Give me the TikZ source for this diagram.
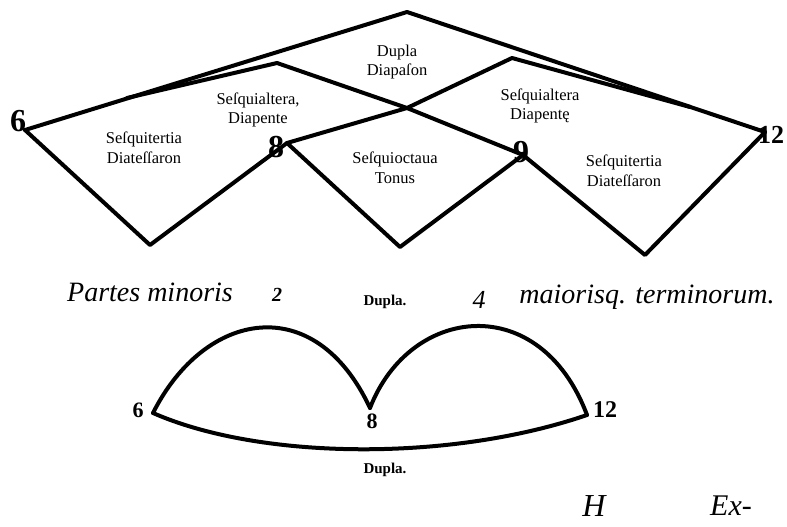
\documentclass[tikz,border=0pt]{standalone}
\usepackage{fontspec}
\setmainfont{Liberation Serif}
\begin{document}
\begin{tikzpicture}[x=1pt,y=-1pt,
  edge/.style={line width=4pt, line join=round, line cap=round},
  lab/.style={font=\fontsize{16.5}{19.5}\selectfont, align=center, inner sep=0pt},
  bignum/.style={font=\fontsize{32}{34}\selectfont\bfseries, inner sep=0pt},
  smallnum/.style={font=\fontsize{22}{24}\selectfont\bfseries, inner sep=0pt},
  ital/.style={font=\fontsize{28}{30}\selectfont\itshape, inner sep=0pt},
  dup/.style={font=\fontsize{15}{17}\selectfont\bfseries, inner sep=0pt}]
\fill[white] (0,0) rectangle (787,527);
\useasboundingbox (0,0) rectangle (787,527);
% upper figure vertices
\coordinate (six) at (25,130);
\coordinate (apex) at (407,12);
\coordinate (twelve) at (765,132);
\coordinate (lpk) at (277,63);
\coordinate (ldep) at (127,98);
\coordinate (eight) at (287,143);
\coordinate (cross) at (407,108);
\coordinate (nine) at (523,155);
\coordinate (rpk) at (512,58);
\coordinate (rjoin) at (690,107);
\coordinate (b1) at (150,245);
\coordinate (b2) at (400,247);
\coordinate (b3) at (645,255);
\draw[edge] (six) -- (apex) -- (twelve);
\draw[edge] (ldep) -- (lpk) -- (cross) -- (nine);
\draw[edge] (eight) -- (cross) -- (rpk) -- (rjoin);
\draw[edge] (six) -- (b1) -- (eight) -- (b2) -- (nine) -- (b3) -- (twelve);
% numbers
\node[bignum] (n6) at (18,121) {6};
\node[bignum] (n8) at (276,147) {8};
\node[bignum] (n9) at (521,152) {9};
\node[font=\fontsize{26}{28}\selectfont\bfseries, inner sep=0pt] (n12) at (771,135) {12};
% interval labels
\node[lab] (dd) at (397,62) {Dupla\\Diapaſon};
\node[lab] (st1) at (144,148) {Seſquitertia\\Diateſſaron};
\node[lab] (sa1) at (258,110) {Seſquialtera,\\Diapente};
\node[lab] (so) at (395,168) {Seſquioctaua\\Tonus};
\node[lab] (sa2) at (540,106) {Seſquialtera\\Diapentę};
\node[lab] (st2) at (624,171) {Seſquitertia\\Diateſſaron};
% middle line of text
\node[ital] (pm) at (150,292) {Partes minoris};
\node[font=\fontsize{20}{22}\selectfont\itshape\bfseries, inner sep=0pt] (two) at (277,295) {2};
\node[dup] (d1) at (385,302) {Dupla.};
\node[font=\fontsize{26}{28}\selectfont\itshape, inner sep=0pt] (four) at (479,300) {4};
\node[ital] (mt) at (647,297) {maiorisq. terminorum.};
% lower figure
\coordinate (l6) at (153,413);
\coordinate (l8) at (370,408);
\coordinate (l12) at (587,415);
\draw[edge] (l6) .. controls (205,310) and (315,290) .. (l8);
\draw[edge] (l8) .. controls (410,305) and (540,290) .. (l12);
\draw[edge] (l6) .. controls (260,460) and (450,462) .. (l12);
\node[smallnum] (m6) at (138,410) {6};
\node[smallnum] (m8) at (372,421) {8};
\node[font=\fontsize{24}{26}\selectfont\bfseries, inner sep=0pt] (m12) at (605,410) {12};
\node[dup] (d2) at (385,470) {Dupla.};
% footer
\node[font=\fontsize{32}{34}\selectfont\itshape, inner sep=0pt] (h) at (594,506) {H};
\node[font=\fontsize{30}{32}\selectfont\itshape, inner sep=0pt] (ex) at (731,506) {Ex-};
\end{tikzpicture}
\end{document}
